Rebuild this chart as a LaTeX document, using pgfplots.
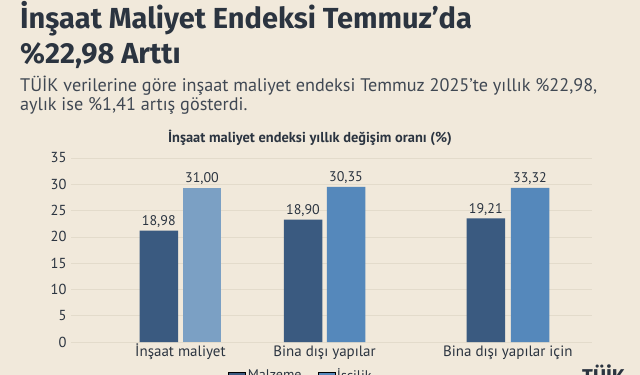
\documentclass[border=0pt]{standalone}
\usepackage{pgfplots}
\pgfplotsset{compat=1.18}
\usepackage{fontspec}
\setmainfont{PT Sans}
\newfontfamily\titlefont{Fira Sans}
\definecolor{bg}{HTML}{F1E9DB}
\definecolor{txt}{HTML}{2B3440}
\definecolor{darkbar}{HTML}{3A5A80}
\definecolor{lightA}{HTML}{7BA0C4}
\definecolor{lightB}{HTML}{5588BB}
\definecolor{gridc}{HTML}{E3DBCB}
\begin{document}
\begin{tikzpicture}
\fill[bg] (0,0) rectangle (640bp,375bp);
\path[use as bounding box] (0,0) rectangle (640bp,375bp);
\node[anchor=base west, inner sep=0, text=txt] at (20bp,346.7bp) {\titlefont\bfseries\fontsize{29bp}{34bp}\selectfont İnşaat Maliyet Endeksi Temmuz’da};
\node[anchor=base west, inner sep=0, text=txt] at (20bp,311.7bp) {\titlefont\bfseries\fontsize{29bp}{34bp}\selectfont \%22,98 Arttı};
\node[anchor=base west, inner sep=0, text=txt!90] at (20bp,283bp) {\fontsize{18.2bp}{20bp}\selectfont TÜİK verilerine göre inşaat maliyet endeksi Temmuz 2025’te yıllık \%22,98,};
\node[anchor=base west, inner sep=0, text=txt!90] at (20bp,264.3bp) {\fontsize{18.2bp}{20bp}\selectfont aylık ise \%1,41 artış gösterdi.};
\node[anchor=base, inner sep=0, text=txt] at (310bp,232.3bp) {\bfseries\fontsize{14.4bp}{16bp}\selectfont İnşaat maliyet endeksi yıllık değişim oranı (\%)};
\begin{axis}[
  at={(71bp,33bp)}, anchor=south west, scale only axis,
  width=521bp, height=184bp,
  xmin=71, xmax=592, ymin=0, ymax=35,
  ytick={0,5,...,35},
  xtick={180.4,324.6,507.8},
  xticklabels={İnşaat maliyet, Bina dışı yapılar, Bina dışı yapılar için},
  axis line style={draw=none},
  major tick length=0pt,
  ymajorgrids, grid style={draw=gridc, line width=0.7bp},
  /pgf/number format/assume math mode=true,
  ticklabel style={font=\fontsize{14.5bp}{16bp}\selectfont, text=txt},
  yticklabel style={xshift=-1bp},
  xticklabel style={anchor=base, yshift=-14bp, font=\fontsize{15bp}{17bp}\selectfont},
  ybar, bar width=38.5bp,
  nodes near coords,
  point meta=explicit symbolic,
  every node near coord/.append style={font=\fontsize{14bp}{16bp}\selectfont, text=txt, anchor=base, inner sep=0pt, yshift=5bp},
  clip=false,
  legend columns=2,
  legend style={at={(0.296,-0.12)}, anchor=north west, draw=none, fill=none, font=\fontsize{14bp}{16bp}\selectfont, text=txt, /tikz/every even column/.append style={column sep=14bp}},
  area legend,
]
\addplot[bar shift=0pt, fill=darkbar, draw=none] table[x=x, y=y, meta=lab] {
x y lab
158.8 21.2 18,98
303.0 23.3 18,90
485.8 23.5 19,21
};
\addlegendentry{Malzeme}
\addplot[bar shift=0pt, fill=lightA, draw=none, forget plot] table[x=x, y=y, meta=lab] {
x y lab
202.0 29.3 31,00
};
\addplot[bar shift=0pt, fill=lightB, draw=none] table[x=x, y=y, meta=lab] {
x y lab
346.0 29.5 30,35
530.0 29.3 33,32
};
\addlegendentry{İşçilik}
\end{axis}
\node[anchor=north west, inner sep=0, text=txt] at (582bp,10bp) {\titlefont\bfseries\fontsize{20bp}{22bp}\selectfont TÜİK};
\end{tikzpicture}
\end{document}
